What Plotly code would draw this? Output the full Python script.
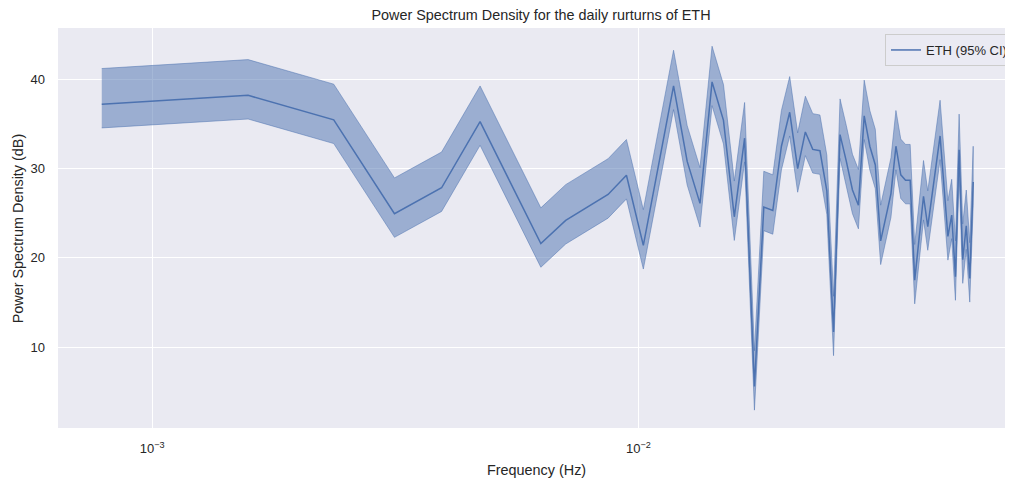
import plotly.graph_objects as go

# Frequency bin index (multiples of the base frequency resolution)
bin_index = [1, 2, 3, 4, 5, 6, 8, 9, 11, 12, 13, 15, 16, 17, 18, 19, 20, 21, 22, 23,
             24, 25, 26, 27, 28, 29, 30, 31, 32, 33, 34, 35, 36, 37, 38, 39, 40, 41, 42, 43,
             44, 45, 46, 47, 49, 50, 53, 55, 56, 57, 58, 59, 60, 61, 62]
base_freq = 1.0 / 1270.0  # Hz

# Power spectral density (dB)
psd_db = [37.2, 38.2, 35.45, 24.95, 27.85, 35.25, 21.6, 24.2, 27.1, 29.25, 21.4, 39.25, 30.8, 26.1,
          39.7, 35.4, 24.6, 33.4, 5.6, 25.7, 25.3, 32.5, 36.3, 30.0, 34.1, 32.15, 32.0, 27.5,
          11.7, 33.8, 30.8, 27.6, 25.9, 35.9, 32.5, 30.4, 21.9, 24.6, 27.2, 32.5, 29.3, 28.7,
          28.7, 17.5, 26.9, 23.5, 33.65, 22.4, 24.8, 17.9, 32.1, 19.8, 23.6, 17.7, 28.5]

# 95% confidence interval offsets (dB), constant in log space
ci_upper_db = 4.0
ci_lower_db = 2.65

series_name = "ETH (95% CI)"
title_text = "Power Spectrum Density for the daily rurturns of ETH"
x_label = "Frequency (Hz)"
y_label = "Power Spectrum Density (dB)"
x_tick_vals = [1e-3, 1e-2]
x_tick_text = ["10<sup>\u22123</sup>", "10<sup>\u22122</sup>"]
y_tick_vals = [10, 20, 30, 40]

freq = [k * base_freq for k in bin_index]
upper = [v + ci_upper_db for v in psd_db]
lower = [v - ci_lower_db for v in psd_db]

FONT = "Liberation Sans, Arial, sans-serif"
TXT = "#262626"
BLUE = "#4c72b0"

# page body adds an 8px offset, so the figure is 8px smaller and shifted
W, H = 1005, 476
L, T, B = 50, 20, 56
PW, PH = W - L, H - T - B  # 955 x 400

fig = go.Figure()
fig.add_trace(go.Scatter(
    x=freq + freq[::-1], y=upper + lower[::-1],
    fill="toself", fillcolor="rgba(76,114,176,0.5)",
    line=dict(color="rgba(76,114,176,0.5)", width=1),
    mode="lines", showlegend=False, hoverinfo="skip"))
fig.add_trace(go.Scatter(
    x=freq, y=psd_db, mode="lines", name=series_name,
    line=dict(color=BLUE, width=1.5)))

fig.update_layout(
    width=W, height=H,
    margin=dict(l=L, r=0, t=T, b=B, pad=0),
    paper_bgcolor="white", plot_bgcolor="#eaeaf2",
    font=dict(family=FONT, size=13, color=TXT),
    title=dict(text=title_text, x=533 / W, xanchor="center", xref="container",
               y=1 - 7 / H, yanchor="middle", yref="container",
               font=dict(size=14.4, color=TXT)),
    legend=dict(x=(884 - L) / PW, y=1 - (26 - T) / PH, xanchor="left", yanchor="top",
                bgcolor="rgba(234,234,242,0.8)", bordercolor="#cccccc", borderwidth=1,
                font=dict(size=13, color=TXT)),
    showlegend=True,
)
fig.update_xaxes(type="log", range=[-3.1938, -1.246], tickvals=x_tick_vals, ticktext=x_tick_text,
                 showgrid=True, gridcolor="white", gridwidth=1, zeroline=False, showline=False,
                 ticks="", ticklabelstandoff=11, tickfont=dict(size=13, color=TXT))
fig.update_yaxes(range=[0.95, 45.74], tickvals=y_tick_vals, showgrid=True, gridcolor="white",
                 gridwidth=1, zeroline=False, showline=False, ticks="", ticklabelstandoff=12,
                 tickfont=dict(size=13, color=TXT))
fig.add_annotation(text=x_label, xref="paper", yref="paper", x=(533 - L) / PW,
                   y=-(462 - 420) / PH, xanchor="center", yanchor="middle", showarrow=False,
                   font=dict(size=14.4, color=TXT))
fig.add_annotation(text=y_label, xref="paper", yref="paper", x=-(L - 10) / PW,
                   y=0.5, xanchor="center", yanchor="middle", textangle=-90, showarrow=False,
                   font=dict(size=14.4, color=TXT))
fig.write_html("out.html")
